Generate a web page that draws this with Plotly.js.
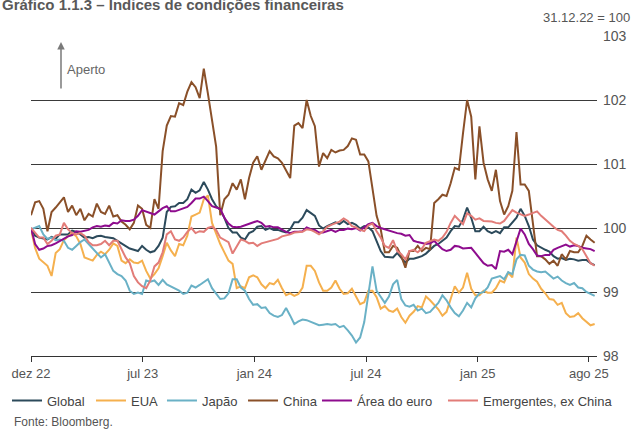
<!DOCTYPE html>
<html>
<head>
<meta charset="utf-8">
<script src="https://cdn.plot.ly/plotly-3.0.1.min.js"></script>
<style>html,body{margin:0;padding:0;background:#fff;}#chart{width:633px;height:429px;}</style>
</head>
<body>
<div id="chart"></div>
<script>
// Weekly observation dates (Fridays)
const dates = ("2022-12-30 " +
"2023-01-06 2023-01-13 2023-01-20 2023-01-27 2023-02-03 2023-02-10 2023-02-17 2023-02-24 " +
"2023-03-03 2023-03-10 2023-03-17 2023-03-24 2023-03-31 2023-04-07 2023-04-14 2023-04-21 2023-04-28 " +
"2023-05-05 2023-05-12 2023-05-19 2023-05-26 2023-06-02 2023-06-09 2023-06-16 2023-06-23 2023-06-30 " +
"2023-07-07 2023-07-14 2023-07-21 2023-07-28 2023-08-04 2023-08-11 2023-08-18 2023-08-25 " +
"2023-09-01 2023-09-08 2023-09-15 2023-09-22 2023-09-29 2023-10-06 2023-10-13 2023-10-20 2023-10-27 " +
"2023-11-03 2023-11-10 2023-11-17 2023-11-24 2023-12-01 2023-12-08 2023-12-15 2023-12-22 2023-12-29 " +
"2024-01-05 2024-01-12 2024-01-19 2024-01-26 2024-02-02 2024-02-09 2024-02-16 2024-02-23 " +
"2024-03-01 2024-03-08 2024-03-15 2024-03-22 2024-03-29 2024-04-05 2024-04-12 2024-04-19 2024-04-26 " +
"2024-05-03 2024-05-10 2024-05-17 2024-05-24 2024-05-31 2024-06-07 2024-06-14 2024-06-21 2024-06-28 " +
"2024-07-05 2024-07-12 2024-07-19 2024-07-26 2024-08-02 2024-08-09 2024-08-16 2024-08-23 2024-08-30 " +
"2024-09-06 2024-09-13 2024-09-20 2024-09-27 2024-10-04 2024-10-11 2024-10-18 2024-10-25 " +
"2024-11-01 2024-11-08 2024-11-15 2024-11-22 2024-11-29 2024-12-06 2024-12-13 2024-12-20 2024-12-27 " +
"2025-01-03 2025-01-10 2025-01-17 2025-01-24 2025-01-31 2025-02-07 2025-02-14 2025-02-21 2025-02-28 " +
"2025-03-07 2025-03-14 2025-03-21 2025-03-28 2025-04-04 2025-04-11 2025-04-18 2025-04-25 " +
"2025-05-02 2025-05-09 2025-05-16 2025-05-23 2025-05-30 2025-06-06 2025-06-13 2025-06-20 2025-06-27 " +
"2025-07-04 2025-07-11 2025-07-18 2025-07-25 2025-08-01 2025-08-08 2025-08-15").split(" ");

const global = [100.0,99.88,99.85,99.84,99.82,99.86,99.83,99.9,99.9,99.9,99.96,99.94,99.9,99.85,99.86,99.84,99.87,99.88,99.86,99.85,99.84,99.8,99.76,99.72,99.68,99.66,99.64,99.72,99.66,99.62,99.64,99.72,99.85,100.25,100.33,
100.34,100.39,100.39,100.45,100.6,100.55,100.59,100.72,100.6,100.45,100.34,100.28,100.16,100.0,99.93,99.93,99.85,99.82,99.92,99.95,100.02,100.03,99.97,100.0,99.97,99.97,99.95,99.93,99.98,100.09,100.09,100.16,100.28,100.23,
100.19,100.04,99.99,100.03,100.06,100.09,100.06,100.11,100.06,100.08,100.05,99.99,100.03,100.01,99.95,99.8,99.64,99.55,99.55,99.54,99.61,99.54,99.46,99.52,99.52,99.54,99.56,99.6,99.66,99.72,99.75,99.8,99.85,99.95,100.03,
100.02,100.13,100.32,100.16,99.95,99.95,100.02,99.95,99.92,99.95,99.92,100.01,100.01,100.08,100.16,100.3,100.19,100.03,99.82,99.73,99.69,99.66,99.63,99.56,99.52,99.53,99.5,99.52,99.51,99.49,99.5,99.5,99.45,99.42];

const eua = [99.98,99.69,99.52,99.46,99.41,99.25,99.61,99.67,99.81,99.87,99.92,99.87,99.75,99.54,99.52,99.49,99.58,99.63,99.59,99.66,99.76,99.72,99.49,99.45,99.51,99.46,99.45,99.49,99.33,99.21,99.28,99.37,99.56,99.77,99.65,
99.56,99.75,99.73,99.88,100.18,100.21,100.24,100.45,100.51,100.08,99.9,99.75,99.62,99.49,99.44,99.06,99.09,99.06,99.23,99.26,99.23,99.12,99.06,99.14,99.12,99.19,99.06,98.95,98.98,98.94,98.97,99.07,99.41,99.41,
99.33,99.15,99.02,99.02,99.07,99.18,99.05,98.97,98.98,99.05,98.93,98.81,98.84,99.02,99.02,98.92,98.74,98.78,98.71,98.69,98.74,98.61,98.52,98.63,98.69,98.78,98.76,98.93,98.87,98.8,98.73,98.63,98.69,98.89,99.09,
98.99,99.07,99.3,99.05,98.95,98.95,99.02,98.99,98.99,99.06,99.18,99.15,99.3,99.23,99.85,99.54,99.46,99.28,99.21,99.16,99.05,98.98,98.89,98.88,98.8,98.83,98.67,98.61,98.62,98.67,98.59,98.53,98.48,98.5];

const japao = [99.98,100.0,100.03,99.9,99.83,99.85,99.81,99.82,99.8,99.69,99.66,99.72,99.78,99.82,99.75,99.67,99.61,99.54,99.59,99.45,99.33,99.28,99.25,99.18,99.02,98.97,98.99,98.97,99.18,99.16,99.18,99.11,99.19,99.12,99.09,
99.06,99.02,98.97,98.99,99.1,99.07,99.11,99.16,99.2,99.06,98.98,98.89,98.9,98.98,99.2,99.2,99.07,99.02,98.89,98.8,98.81,98.75,98.76,98.67,98.63,98.61,98.64,98.75,98.63,98.5,98.54,98.57,98.56,98.53,
98.5,98.48,98.49,98.5,98.49,98.5,98.45,98.47,98.4,98.32,98.21,98.29,98.53,98.97,99.4,99.02,98.92,98.83,98.93,99.12,99.19,98.89,98.79,98.77,98.8,98.71,98.74,98.67,98.69,98.76,98.83,98.95,98.87,98.76,98.67,
98.62,98.71,98.83,98.76,98.9,98.98,99.0,99.07,99.21,99.23,99.25,99.2,99.31,99.28,99.51,99.58,99.57,99.41,99.35,99.32,99.31,99.32,99.26,99.21,99.24,99.18,99.14,99.11,99.14,99.07,99.06,99.0,98.97,98.94];

const china = [100.2,100.4,100.42,100.3,99.95,100.25,100.32,100.4,100.48,100.25,100.35,100.2,100.3,100.12,100.22,100.18,100.38,100.25,100.22,100.35,100.18,100.2,100.1,100.05,99.98,100.08,100.35,100.3,100.05,100.0,100.45,100.3,101.2,101.6,101.75,
101.74,101.95,101.92,102.13,102.28,102.2,102.03,102.49,102.1,101.69,101.27,100.2,100.45,100.52,100.7,100.6,100.76,100.45,100.78,101.02,101.12,100.91,101.07,101.2,101.12,101.09,101.02,100.91,100.78,101.6,101.64,101.56,102.0,101.75,
101.59,100.96,101.17,101.09,101.22,101.18,101.21,101.22,101.28,101.4,101.38,101.15,101.15,101.04,100.65,100.19,99.98,99.62,99.62,99.72,99.69,99.56,99.38,99.64,99.64,99.72,99.64,99.69,99.67,100.39,100.45,100.52,100.5,100.7,100.94,
100.91,101.48,102.0,101.74,100.76,101.59,101.02,100.76,100.58,100.91,100.42,100.21,100.34,100.58,101.5,100.68,100.68,100.58,100.03,99.56,99.56,99.51,99.44,99.49,99.41,99.59,99.51,99.64,99.62,99.62,99.72,99.88,99.82,99.77];

const euro = [100.0,99.75,99.66,99.68,99.72,99.73,99.76,99.8,99.83,99.87,99.89,99.95,99.94,99.95,99.97,100.01,100.03,100.02,100.04,100.03,100.08,100.07,100.12,100.11,100.11,100.13,100.19,100.28,100.26,100.23,100.21,100.26,100.31,100.34,100.26,
100.26,100.28,100.3,100.33,100.39,100.46,100.46,100.49,100.42,100.34,100.32,100.3,100.16,100.07,100.02,100.01,100.02,100.04,100.06,100.08,100.11,100.08,100.02,100.03,100.01,100.01,99.97,99.94,99.92,99.94,99.94,99.95,100.01,99.98,
99.97,99.93,99.93,99.95,99.97,99.94,99.97,99.97,99.99,99.98,100.0,99.96,100.01,100.06,100.08,100.03,100.0,99.98,99.95,99.93,99.92,99.91,99.88,99.89,99.8,99.78,99.77,99.75,99.76,99.8,99.73,99.67,99.64,99.66,99.72,
99.71,99.68,99.68,99.69,99.61,99.52,99.45,99.41,99.42,99.36,99.64,99.63,99.66,99.59,99.8,99.99,99.9,99.75,99.67,99.57,99.56,99.58,99.58,99.66,99.69,99.72,99.74,99.71,99.73,99.72,99.69,99.68,99.67,99.64];

const emergentes = [100.0,99.93,99.85,99.85,99.75,99.8,99.88,99.9,100.08,99.98,99.92,99.9,99.92,99.88,99.78,99.73,99.73,99.75,99.8,99.73,99.8,99.8,99.67,99.54,99.45,99.25,99.15,99.09,99.06,99.18,99.4,99.46,99.62,99.9,99.95,
99.82,99.8,99.85,99.94,100.0,99.92,99.95,99.94,100.0,100.02,99.97,99.85,99.82,99.78,99.6,99.72,99.82,99.8,99.76,99.77,99.72,99.76,99.78,99.8,99.82,99.83,99.87,99.88,99.9,99.93,99.94,99.94,99.98,99.97,
99.94,99.9,99.95,100.02,100.05,100.08,100.1,100.15,100.11,100.03,100.01,99.97,99.95,100.04,100.07,99.95,99.85,99.72,99.69,99.81,99.64,99.59,99.51,99.64,99.66,99.62,99.68,99.77,99.8,99.82,99.8,99.85,99.94,100.08,100.19,
100.12,100.06,100.23,100.19,100.13,100.15,100.11,100.11,100.1,100.08,100.07,100.11,100.19,100.28,100.24,100.21,100.19,100.21,100.23,100.26,100.19,100.13,100.07,100.02,99.97,99.95,99.88,99.8,99.75,99.72,99.67,99.56,99.45,99.41];

const seriesNames = ["Global", "EUA", "Japão", "China", "Área do euro", "Emergentes, ex China"];
const seriesColors = ["#2c4a5b", "#f5b04e", "#6ab1c6", "#8a5029", "#8e0c8e", "#e27c78"];
const seriesValues = [global, eua, japao, china, euro, emergentes];

const tickDates = ["2022-12-30", "2023-07-08", "2024-01-14", "2024-07-22", "2025-01-28", "2025-08-05"];
const tickLabels = ["dez 22", "jul 23", "jan 24", "jul 24", "jan 25", "ago 25"];
const yTicks = [98, 99, 100, 101, 102, 103];

const FONT = "Liberation Sans, Arial, Helvetica, sans-serif";
const legendIds = ["legend", "legend2", "legend3", "legend4", "legend5", "legend6"];
const legendX = [-0.0424, 0.106, 0.2314, 0.3746, 0.5053, 0.7279];

const traces = seriesValues.map((vals, k) => ({
  type: "scatter",
  mode: "lines",
  name: seriesNames[k],
  x: dates,
  y: vals,
  legend: legendIds[k],
  line: {color: seriesColors[k], width: 2},
  hoverinfo: "skip"
}));

const layout = {
  width: 633,
  height: 429,
  margin: {l: 31, r: 36, t: 36, b: 73, pad: 0, autoexpand: false},
  paper_bgcolor: "#ffffff",
  plot_bgcolor: "#ffffff",
  font: {family: FONT, size: 13, color: "#555555"},
  showlegend: true,
  xaxis: {
    type: "date",
    range: ["2022-12-30", "2025-08-19"],
    tickmode: "array",
    tickvals: tickDates,
    ticktext: tickLabels,
    showgrid: false,
    zeroline: false,
    showline: true,
    linecolor: "#333333",
    linewidth: 1,
    ticks: "outside",
    ticklen: 5,
    tickwidth: 1,
    tickcolor: "#333333",
    tickfont: {family: FONT, size: 13, color: "#555555"},
    fixedrange: true
  },
  yaxis: {
    side: "right",
    range: [98, 103],
    tickmode: "array",
    tickvals: yTicks,
    ticktext: yTicks.map(String),
    showgrid: true,
    gridcolor: "#3a3a3a",
    gridwidth: 1,
    zeroline: false,
    showline: false,
    ticks: "",
    ticklabelstandoff: 5,
    tickfont: {family: FONT, size: 14, color: "#555555"},
    fixedrange: true
  },
  annotations: [
    {text: "<b>Gráfico 1.1.3 – Índices de condições financeiras</b>", xref: "paper", yref: "paper",
     x: -0.0548, xanchor: "left", y: 1.097, yanchor: "middle", showarrow: false,
     font: {family: FONT, size: 15, color: "#595959"}},
    {text: "31.12.22 = 100", xref: "paper", yref: "paper",
     x: 1.062, xanchor: "right", y: 1.059, yanchor: "middle", showarrow: false,
     font: {family: FONT, size: 13, color: "#555555"}},
    {text: "Aperto", xref: "paper", yref: "paper",
     x: 0.060, xanchor: "left", y: 0.894, yanchor: "middle", showarrow: false,
     font: {family: FONT, size: 13, color: "#666666"}},
    {text: "", xref: "paper", yref: "paper", x: 0.053, y: 0.981,
     showarrow: true, ax: 0, ay: 48, axref: "pixel", ayref: "pixel",
     arrowcolor: "#7a7a7a", arrowwidth: 1.5, arrowhead: 2, arrowsize: 1, standoff: 0},
    {text: "Fonte: Bloomberg.", xref: "paper", yref: "paper",
     x: -0.0336, xanchor: "left", y: -0.206, yanchor: "middle", showarrow: false,
     font: {family: FONT, size: 12, color: "#555555"}}
  ]
};

legendIds.forEach((id, k) => {
  layout[id] = {
    orientation: "h",
    x: legendX[k], xanchor: "left",
    y: -0.0925, yanchor: "top",
    font: {family: FONT, size: 13, color: "#444444"},
    itemwidth: 30,
    bgcolor: "rgba(0,0,0,0)"
  };
});

Plotly.newPlot("chart", traces, layout, {staticPlot: true, displayModeBar: false});
</script>
</body>
</html>
